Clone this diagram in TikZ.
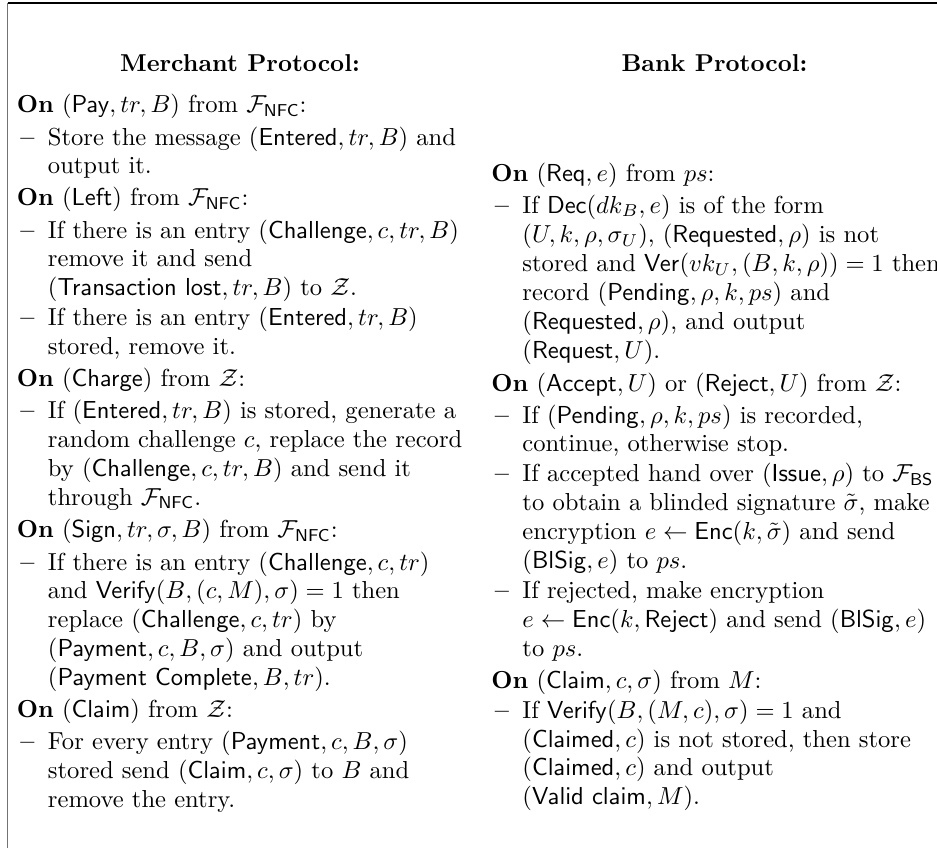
\documentclass[tikz,border=0pt]{standalone}
\usepackage{graphicx}
\usepackage{amsmath}
\newcommand\Sc[1]{\scalebox{1.024}{#1}}
\newcommand\PH[4]{\node[ln] (#1) at (#2,#3) {\Sc{\textbf{On} #4}};}
\newcommand\PD[4]{\node[ln] (#1d) at ({#2+3.5},#3) {\Sc{\textbf{--}}};\node[ln] (#1) at ({#2+31},#3) {\Sc{#4}};}
\newcommand\PC[4]{\node[ln] (#1) at ({#2+31},#3) {\Sc{#4}};}
\newcommand\Fn{\mathcal{F}_{\mathsf{NFC}}}
\begin{document}
\begin{tikzpicture}[x=0.41667pt,y=-0.41667pt,
  ln/.style={anchor=base west, inner sep=0pt, font=\fontsize{10}{12}\selectfont},
  ttl/.style={anchor=base, inner sep=0pt, font=\fontsize{10}{12}\selectfont\bfseries}]
\useasboundingbox (0,0) rectangle (937,848);
\coordinate (tl) at (7.5,3);
\coordinate (tr) at (937,3);
\coordinate (bl) at (7.5,848);
\draw[line width=0.45pt, black] (tl) -- (tr);
\draw[line width=0.6pt, black!55] (tl) -- (bl);
% titles
\node[ttl] (mt) at (240,71) {\scalebox{1.017}{Merchant Protocol:}};
\node[ttl] (bt) at (714.5,71) {\scalebox{1.017}{Bank Protocol:}};
% ---------- Merchant column ----------
\def\X{16.5}
\PH{m1}{\X}{112.7}{$(\mathsf{Pay}, tr, B)$ from $\Fn$:}
\PD{m2}{\X}{145}{Store the message $(\mathsf{Entered}, tr, B)$ and}
\PC{m3}{\X}{173.7}{output it.}
\PH{m4}{\X}{205.5}{$(\mathsf{Left})$ from $\Fn$:}
\PD{m5}{\X}{238.2}{If there is an entry $(\mathsf{Challenge}, c, tr, B)$}
\PC{m6}{\X}{266.9}{remove it and send}
\PC{m7}{\X}{295.6}{$(\mathsf{Transaction\ lost}, tr, B)$ to $\mathcal{Z}$.}
\PD{m8}{\X}{325.5}{If there is an entry $(\mathsf{Entered}, tr, B)$}
\PC{m9}{\X}{354.3}{stored, remove it.}
\PH{m10}{\X}{386.7}{$(\mathsf{Charge})$ from $\mathcal{Z}$:}
\PD{m11}{\X}{418.7}{If $(\mathsf{Entered}, tr, B)$ is stored, generate a}
\PC{m12}{\X}{447.4}{random challenge $c$, replace the record}
\PC{m13}{\X}{476.2}{by $(\mathsf{Challenge}, c, tr, B)$ and send it}
\PC{m14}{\X}{505}{through $\Fn$.}
\PH{m15}{\X}{537.8}{$(\mathsf{Sign}, tr, \sigma, B)$ from $\Fn$:}
\PD{m16}{\X}{570}{If there is an entry $(\mathsf{Challenge}, c, tr)$}
\PC{m17}{\X}{598.6}{and $\mathsf{Verify}(B, (c, M), \sigma) = 1$ then}
\PC{m18}{\X}{627.6}{replace $(\mathsf{Challenge}, c, tr)$ by}
\PC{m19}{\X}{656.3}{$(\mathsf{Payment}, c, B, \sigma)$ and output}
\PC{m20}{\X}{685}{$(\mathsf{Payment\ Complete}, B, tr)$.}
\PH{m21}{\X}{717.5}{$(\mathsf{Claim})$ from $\mathcal{Z}$:}
\PD{m22}{\X}{749.7}{For every entry $(\mathsf{Payment}, c, B, \sigma)$}
\PC{m23}{\X}{778.5}{stored send $(\mathsf{Claim}, c, \sigma)$ to $B$ and}
\PC{m24}{\X}{807.2}{remove the entry.}
% ---------- Bank column ----------
\def\X{491}
\PH{b1}{\X}{181}{$(\mathsf{Req}, e)$ from $ps$:}
\PD{b2}{\X}{213.3}{If $\mathsf{Dec}(dk_B, e)$ is of the form}
\PC{b3}{\X}{242.5}{$(U, k, \rho, \sigma_U)$, $(\mathsf{Requested}, \rho)$ is not}
\PC{b4}{\X}{271.5}{stored and $\mathsf{Ver}(vk_U, (B, k, \rho)) = 1$ then}
\PC{b5}{\X}{300.6}{record $(\mathsf{Pending}, \rho, k, ps)$ and}
\PC{b6}{\X}{329.6}{$(\mathsf{Requested}, \rho)$, and output}
\PC{b7}{\X}{358.8}{$(\mathsf{Request}, U)$.}
\PH{b8}{\X}{391}{$(\mathsf{Accept}, U)$ or $(\mathsf{Reject}, U)$ from $\mathcal{Z}$:}
\PD{b9}{\X}{423}{If $(\mathsf{Pending}, \rho, k, ps)$ is recorded,}
\PC{b10}{\X}{451.8}{continue, otherwise stop.}
\PD{b11}{\X}{481.5}{If accepted hand over $(\mathsf{Issue}, \rho)$ to $\mathcal{F}_{\mathsf{BS}}$}
\PC{b12}{\X}{510.3}{to obtain a blinded signature $\tilde{\sigma}$, make}
\PC{b13}{\X}{539.3}{encryption $e \leftarrow \mathsf{Enc}(k, \tilde{\sigma})$ and send}
\PC{b14}{\X}{568.3}{$(\mathsf{BlSig}, e)$ to $ps$.}
\PD{b15}{\X}{598.3}{If rejected, make encryption}
\PC{b16}{\X}{627.5}{$e \leftarrow \mathsf{Enc}(k, \mathsf{Reject})$ and send $(\mathsf{BlSig}, e)$}
\PC{b17}{\X}{656.5}{to $ps$.}
\PH{b18}{\X}{688.3}{$(\mathsf{Claim}, c, \sigma)$ from $M$:}
\PD{b19}{\X}{718.5}{If $\mathsf{Verify}(B, (M, c), \sigma) = 1$ and}
\PC{b20}{\X}{747}{$(\mathsf{Claimed}, c)$ is not stored, then store}
\PC{b21}{\X}{775.5}{$(\mathsf{Claimed}, c)$ and output}
\PC{b22}{\X}{804}{$(\mathsf{Valid\ claim}, M)$.}
\end{tikzpicture}
\end{document}
